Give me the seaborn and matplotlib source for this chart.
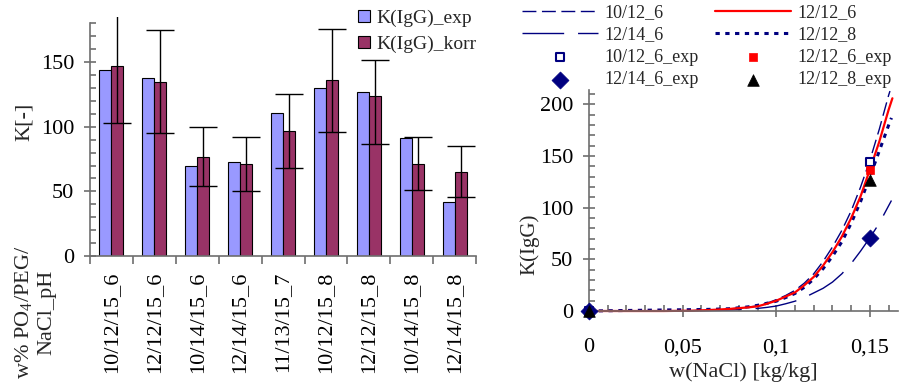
import pandas as pd
import matplotlib
matplotlib.use('Agg')
import matplotlib.pyplot as plt
import seaborn as sns
from matplotlib.ticker import MultipleLocator, FixedLocator

# Left chart - K values per system (w% PO4/PEG/NaCl_pH)
systems = ['10/12/15_6', '12/12/15_6', '10/14/15_6', '12/14/15_6', '11/13/15_7',
           '10/12/15_8', '12/12/15_8', '10/14/15_8', '12/14/15_8']
k_exp = [144, 138, 70, 73, 111, 130, 127, 91, 42]
k_korr = [147, 135, 77, 71, 97, 136, 124, 71, 65]
korr_err_low = [44, 40, 23, 21, 29, 40, 37, 20, 19]
korr_err_high = [44, 40, 23, 21, 28, 40, 28, 21, 20]

# Right chart - model curves K(IgG) vs w(NaCl)
w_10_12_6 = [0, 0.02, 0.04, 0.055, 0.065, 0.075, 0.085, 0.09, 0.095, 0.10, 0.105, 0.11,
             0.115, 0.12, 0.125, 0.13, 0.135, 0.14, 0.145, 0.15, 0.155, 0.16, 0.1607]
k_10_12_6 = [0, 0, 0, 0.3, 1, 2, 3.7, 5, 7.5, 11, 15, 20,
             27, 36, 48, 62, 78, 97, 120, 146, 176, 209, 213]

w_12_12_6 = [0, 0.02, 0.04, 0.055, 0.065, 0.075, 0.085, 0.09, 0.095, 0.10, 0.105, 0.11,
             0.115, 0.12, 0.125, 0.13, 0.135, 0.14, 0.145, 0.15, 0.155, 0.16, 0.162]
k_12_12_6 = [0, 0, 0, 0.3, 1, 2, 3.5, 4.5, 7, 10, 14, 18,
             25, 33, 44, 57, 72, 90, 111, 137, 164, 195, 206]

w_12_14_6 = [0, 0.04, 0.06, 0.07, 0.08, 0.09, 0.095, 0.10, 0.105, 0.11, 0.115, 0.12,
             0.125, 0.13, 0.135, 0.14, 0.145, 0.15, 0.155, 0.16, 0.1615]
k_12_14_6 = [0, 0, 0.3, 0.6, 1.2, 2.5, 3.5, 4.8, 7, 9.5, 13, 17.5,
             22, 28, 36, 46, 58, 71, 85, 102, 107]

w_12_12_8 = [0, 0.02, 0.04, 0.055, 0.065, 0.075, 0.085, 0.09, 0.095, 0.10, 0.105, 0.11,
             0.115, 0.12, 0.125, 0.13, 0.135, 0.14, 0.145, 0.15, 0.155, 0.16, 0.1615]
k_12_12_8 = [0, 0.5, 1, 1.3, 1.6, 2.2, 4, 5.5, 7.5, 9.5, 13, 17,
             23, 31, 41, 53, 67, 85, 106, 130, 155, 180, 187]

# experimental points
w_exp = [0, 0.15]
k_10_12_6_exp = [0, 144]
k_12_12_6_exp = [0, 137]
k_12_14_6_exp = [0, 71]
k_12_12_8_exp = [0, 127]

navy = '#000080'
axis_grey = '#6e6e6e'

sns.set_style('ticks')
plt.rcParams['font.family'] = ['Liberation Serif', 'DejaVu Serif']
plt.rcParams['axes.edgecolor'] = axis_grey
plt.rcParams['axes.linewidth'] = 1.2
plt.rcParams['xtick.color'] = axis_grey
plt.rcParams['ytick.color'] = axis_grey
plt.rcParams['xtick.labelcolor'] = 'black'
plt.rcParams['ytick.labelcolor'] = 'black'

fig = plt.figure(figsize=(9, 3.85), dpi=100)

# ---- Left: bar chart ----
ax1 = fig.add_axes([0.1, 0.335, 0.429, 0.621])
bars = pd.DataFrame({
    'system': systems * 2,
    'K': k_exp + k_korr,
    'series': ['K(IgG)_exp'] * len(systems) + ['K(IgG)_korr'] * len(systems),
})
sns.barplot(data=bars, x='system', y='K', hue='series',
            palette=['#9999FF', '#993366'], saturation=1,
            width=0.56, gap=0, edgecolor='black', linewidth=0.8,
            errorbar=None, ax=ax1)

korr_bars = ax1.containers[1]
xs = [p.get_x() + p.get_width() / 2 for p in korr_bars]
ax1.errorbar(xs, k_korr, yerr=[korr_err_low, korr_err_high], fmt='none',
             ecolor='black', elinewidth=1, capsize=10, capthick=1)

h, l = ax1.get_legend_handles_labels()
ax1.legend(h, l, loc='upper left', bbox_to_anchor=(0.398, 0.975),
           bbox_transform=fig.transFigure, frameon=False, fontsize=14,
           handlelength=0.6, handleheight=0.6, handletextpad=0.35,
           labelspacing=0.45, borderpad=0, borderaxespad=0)

ax1.set_ylim(0, 185)
ax1.set_xlim(-0.5, len(systems) - 0.5)
sns.despine(ax=ax1)
ax1.spines['left'].set_bounds(0, 180)
ax1.yaxis.set_major_locator(FixedLocator([0, 50, 100, 150]))
ax1.yaxis.set_minor_locator(MultipleLocator(10))
ax1.set_xticks([i - 0.5 for i in range(len(systems) + 1)], minor=True)
ax1.tick_params(axis='x', which='major', length=0, labelrotation=90, pad=11, labelsize=16)
ax1.tick_params(axis='x', which='minor', length=6, width=1.2, direction='out')
ax1.tick_params(axis='y', which='major', length=9, width=1.2, direction='inout', labelsize=16, pad=7)
ax1.tick_params(axis='y', which='minor', length=4, width=1.2, direction='in')
ax1.set_xlabel('')
ax1.set_ylabel('K[-]', fontsize=16)
ax1.yaxis.set_label_coords(-0.145, 0.56)

fig.text(35 / 900, 1 - 312 / 385, 'w% PO$_\\mathregular{4}$/PEG/\nNaCl_pH', rotation=90,
         ha='center', va='center', multialignment='center', fontsize=16)

# ---- Right: K(IgG) vs w(NaCl) ----
ax2 = fig.add_axes([0.6544, 0.1922, 0.3434, 0.574])
sns.lineplot(x=w_10_12_6, y=k_10_12_6, ax=ax2, color=navy, linewidth=1,
             linestyle=(0, (10, 4)), label='10/12_6', clip_on=False)
sns.lineplot(x=w_12_14_6, y=k_12_14_6, ax=ax2, color=navy, linewidth=1,
             linestyle=(0, (30, 10)), label='12/14_6', clip_on=False)
sns.lineplot(x=w_12_12_8, y=k_12_12_8, ax=ax2, color=navy, linewidth=2.2,
             linestyle=(0, (1.4, 1.8)), label='12/12_8', clip_on=False)
sns.lineplot(x=w_12_12_6, y=k_12_12_6, ax=ax2, color='#FF0000', linewidth=1.6,
             label='12/12_6', clip_on=False)

sns.scatterplot(x=w_exp, y=k_10_12_6_exp, ax=ax2, marker='s', s=36, color='white',
                edgecolor=navy, linewidth=1.5, label='10/12_6_exp', clip_on=False, zorder=4)
sns.scatterplot(x=w_exp, y=k_12_12_6_exp, ax=ax2, marker='s', s=40, color='#FF0000',
                edgecolor='#FF0000', linewidth=0.5, label='12/12_6_exp', clip_on=False, zorder=4)
sns.scatterplot(x=w_exp, y=k_12_14_6_exp, ax=ax2, marker='D', s=75, color=navy,
                edgecolor=navy, linewidth=0.5, label='12/14_6_exp', clip_on=False, zorder=4)
sns.scatterplot(x=w_exp, y=k_12_12_8_exp, ax=ax2, marker='^', s=70, color='black',
                edgecolor='black', linewidth=0.5, label='12/12_8_exp', clip_on=False, zorder=5)

if ax2.get_legend() is not None:
    ax2.get_legend().remove()

handles, labels = ax2.get_legend_handles_labels()
hmap = dict(zip(labels, handles))
order = ['10/12_6', '12/14_6', '10/12_6_exp', '12/14_6_exp',
         '12/12_6', '12/12_8', '12/12_6_exp', '12/12_8_exp']
fig.legend([hmap[k] for k in order], order, loc='upper left',
           bbox_to_anchor=(522 / 900, 1 - 4 / 385), ncol=2, frameon=False,
           fontsize=13, handlelength=4.2, handletextpad=0.35, columnspacing=0.9,
           labelspacing=0.3, borderpad=0, borderaxespad=0, scatterpoints=1)

ax2.set_xlim(0, 0.165)
ax2.set_ylim(0, 214)
sns.despine(ax=ax2)
ax2.xaxis.set_major_locator(FixedLocator([0, 0.05, 0.1, 0.15]))
ax2.set_xticklabels(['0', '0,05', '0,1', '0,15'])
ax2.xaxis.set_minor_locator(MultipleLocator(0.01))
ax2.yaxis.set_major_locator(FixedLocator([0, 50, 100, 150, 200]))
ax2.yaxis.set_minor_locator(MultipleLocator(10))
ax2.tick_params(which='major', length=9, width=1.2, direction='inout', labelsize=16)
ax2.tick_params(axis='x', which='major', pad=15)
ax2.tick_params(axis='y', which='major', pad=7)
ax2.tick_params(which='minor', length=4, width=1.2, direction='in')
ax2.set_xlabel('w(NaCl) [kg/kg]', fontsize=16, labelpad=4)
ax2.set_ylabel('K(IgG)', fontsize=15)
ax2.yaxis.set_label_coords(-0.16, 0.30)

fig.savefig('out.png', dpi=100)
